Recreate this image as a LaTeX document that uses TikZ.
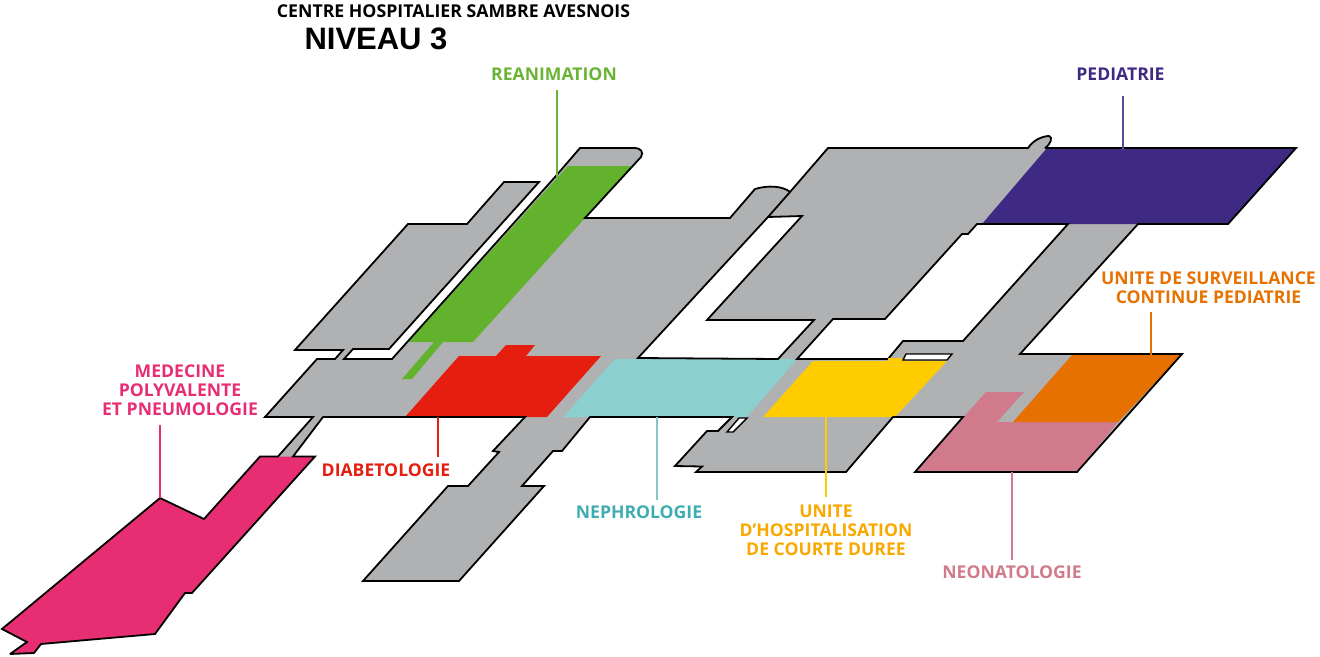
\documentclass[tikz,border=0pt]{standalone}
\usepackage{fontspec}
\setmainfont{Open Sans}
\newfontfamily\arialfont{Liberation Sans}
\definecolor{wardgray}{HTML}{B0B1B3}
\definecolor{cgreen}{HTML}{62B22D}
\definecolor{tgreen}{HTML}{69B432}
\definecolor{cpurple}{HTML}{3F2A83}
\definecolor{lpurple}{HTML}{3F2A83}
\definecolor{corange}{HTML}{E67100}
\definecolor{cred}{HTML}{E61E10}
\definecolor{ccyan}{HTML}{8BCFCE}
\definecolor{tcyan}{HTML}{3FADB0}
\definecolor{cyellow}{HTML}{FFCC00}
\definecolor{tyellow}{HTML}{F9A800}
\definecolor{cpink}{HTML}{D07A8B}
\definecolor{cmag}{HTML}{E72E73}
\tikzset{
  wardline/.style={draw=black,line width=1.8pt,line join=miter,miter limit=3},
  lab/.style={font=\bfseries\fontsize{17.6}{18.8}\selectfont,align=center,inner sep=0pt},
  lead/.style={line width=2pt}
}
\begin{document}
\begin{tikzpicture}[x=1pt,y=-1pt]
\useasboundingbox (0,0) rectangle (1320,656);
\def\outline{(580,148) -- (634,148) .. controls (641,148) and (644,152) .. (641,157) -- (585,218) -- (730,218) -- (755,189)
  .. controls (768,185) and (783,186) .. (790,192) -- (828,148) -- (1028,148) .. controls (1033,140) and (1043,136) .. (1049,136)
  .. controls (1053,137) and (1051,144) .. (1045,148) -- (1296,148) -- (1228,224) -- (1138,224) -- (1020,354) -- (1182,354)
  -- (1077,472) -- (915,472) -- (963,417) -- (893,417) -- (846,472) -- (696,472) -- (702,466.5) -- (675,466) -- (707,431)
  -- (718,431) -- (732,417) -- (590,417) -- (562,451) -- (553,451) -- (522,486) -- (544,486) -- (459,581) -- (363,581)
  -- (448,486) -- (468,486) -- (499,452) -- (493,451) -- (525,417) -- (323,417) -- (293,456.5) -- (315,456.5) -- (192,593)
  -- (185,593) -- (155,634) -- (41,644) -- (34,653) -- (10,654) -- (27,642) -- (2,629) -- (160,498) -- (204,519) -- (260,456.5)
  -- (278,456.5) -- (313,417) -- (265,417) -- (317,359) -- (335,359) -- (343,350) -- (295,350) -- (408,224) -- (467,224)
  -- (504,182) -- (539,182) -- (389,349) -- (353,349) -- (344,359) -- (392,359) -- (555,177) -- cycle}
% gray base
\fill[wardgray] \outline;
% coloured wards
\fill[cgreen] (568,166) -- (632,166) -- (585,218) -- (473,342) -- (443,342) -- (412,379) -- (402,379) -- (434,342) -- (408,342) -- cycle;
\fill[cred] (405,417) -- (459,356) -- (496,356) -- (506,345) -- (535,345) -- (526,356) -- (601,356) -- (547,417) -- cycle;
\fill[ccyan] (615,359) -- (797,359) -- (747,417) -- (563,417) -- cycle;
\fill[cyellow] (813,361) -- (947,361) -- (895,417) -- (763,417) -- cycle;
\fill[cpurple] (1047,148) -- (1296,148) -- (1228,224) -- (982,224) -- cycle;
\fill[cpink] (986,392) -- (1024,392) -- (997,422) -- (1118,422) -- (1077,472) -- (915,472) -- cycle;
\fill[corange] (1072,355) -- (1182,354) -- (1118,422) -- (1013,422) -- cycle;
\fill[cmag] (260,456.5) -- (315,456.5) -- (192,593) -- (185,593) -- (155,634) -- (41,644) -- (34,653) -- (10,654) -- (27,642) -- (2,629) -- (160,498) -- (204,519) -- cycle;
% outline and holes
\draw[wardline] \outline;
\draw[wardline,fill=white] (768,217) -- (802,216) -- (707,320) -- (814,320) -- (778,359) -- (638,358) -- cycle;
\draw[wardline] (768,217) -- (790,192);
\draw[wardline,fill=white] (797,359) -- (833,319) -- (885,319) -- (962,234) -- (968,234) -- (977,224) -- (1068,224) -- (963,341) -- (903,341) -- (888,359) -- cycle;
\fill[cyellow] (888,361) -- (904,361) -- (904,358) -- (888,358) -- cycle;
\draw[wardline,fill=white,line width=1.4pt] (906,354) -- (952,354) -- (947,360) -- (903,360) -- cycle;
\draw[wardline,fill=white,line width=1.4pt] (739,418) -- (747,418) -- (733,432) -- (727,432) -- cycle;
% titles
\node[inner sep=0pt,font=\bfseries\fontsize{17.7}{20}\selectfont,anchor=center] (title) at (453.5,11) {CENTRE HOSPITALIER SAMBRE AVESNOIS};
\node[inner sep=0pt,font=\arialfont\bfseries\fontsize{31}{34}\selectfont,anchor=center] (level) at (376,38.5) {NIVEAU 3};
% labels and leaders
\node[lab,text=tgreen] (rea) at (554,74) {REANIMATION};
\coordinate (reaend) at (557,178);
\draw[lead,tgreen] (557,90) -- (reaend);
\node[lab,text=lpurple] (ped) at (1120.5,74) {PEDIATRIE};
\coordinate (pedend) at (1123,150);
\draw[lead,lpurple!85!white] (1123,96) -- (pedend);
\node[lab,text=corange] (usc) at (1208.5,288) {UNITE DE SURVEILLANCE\\CONTINUE PEDIATRIE};
\coordinate (uscend) at (1151,355);
\draw[lead,corange] (1151,312) -- (uscend);
\node[lab,text=cmag] (med) at (180,390) {MEDECINE\\POLYVALENTE\\ET PNEUMOLOGIE};
\coordinate (medend) at (160,498);
\draw[lead,cmag] (160,425) -- (medend);
\node[lab,text=cred] (dia) at (386,470) {DIABETOLOGIE};
\coordinate (diaend) at (438,417);
\draw[lead,cred] (diaend) -- (438,457);
\node[lab,text=tcyan] (nep) at (639,512) {NEPHROLOGIE};
\coordinate (nepend) at (657,417);
\draw[lead,ccyan!85!tcyan] (nepend) -- (657,500);
\node[lab,text=tyellow] (uni) at (826,530) {UNITE\\D’HOSPITALISATION\\DE COURTE DUREE};
\coordinate (uniend) at (826,417);
\draw[lead,cyellow] (uniend) -- (826,497);
\node[lab,text=cpink] (neo) at (1012,572) {NEONATOLOGIE};
\coordinate (neoend) at (1012,472);
\draw[lead,cpink] (neoend) -- (1012,560);
\end{tikzpicture}
\end{document}
